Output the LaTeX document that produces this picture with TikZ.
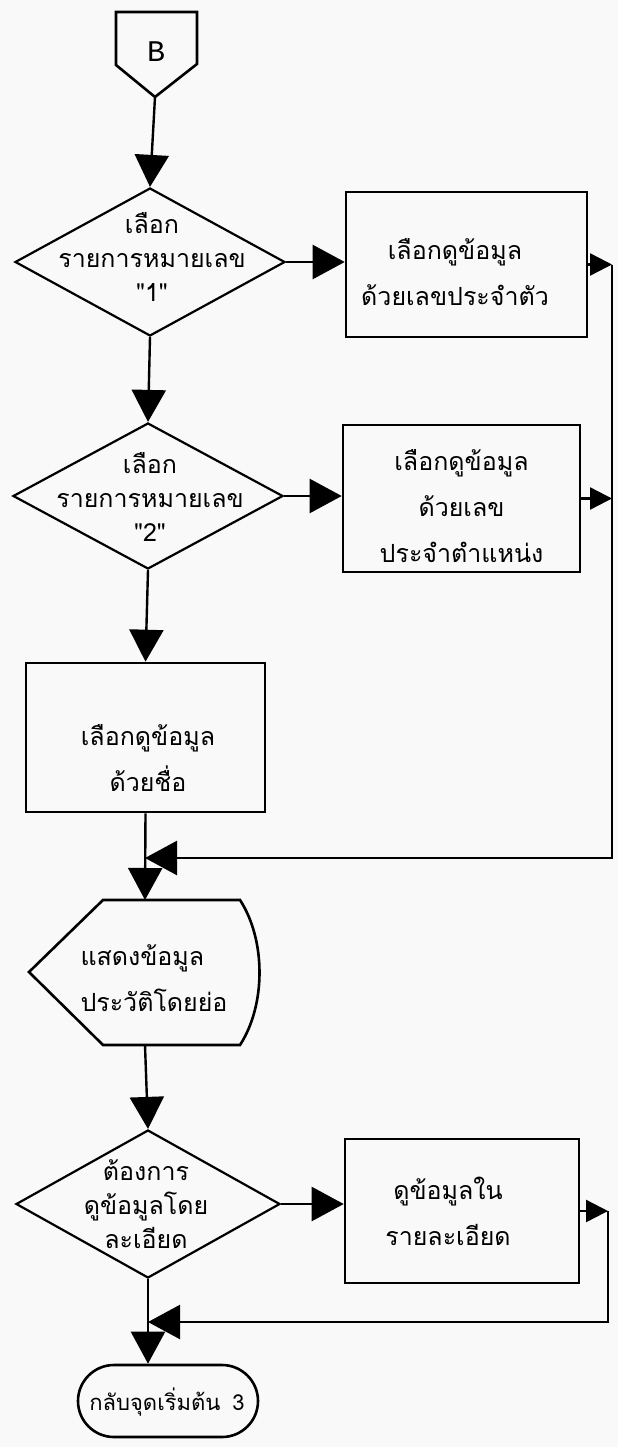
\documentclass[tikz,border=0pt]{standalone}
\usepackage{fontspec}
\newfontfamily\thai[Script=Thai]{Loma}
\newfontfamily\monofam{Liberation Mono}
\usetikzlibrary{arrows.meta,shapes.geometric,shapes.misc}
\begin{document}
\begin{tikzpicture}[x=1pt,y=-1pt,
  line width=2.4pt,
  big/.style={-{Triangle[length=32pt,width=34pt]}},
  small/.style={-{Triangle[length=22pt,width=22pt]}},
  dia/.style={diamond,draw,inner sep=0pt,line width=2.2pt},
  procbox/.style={rectangle,draw,inner sep=0pt,line width=2.6pt},
  ttext/.style={font={\thai\fontsize{25}{46}\selectfont},align=center,inner sep=0pt},
  dtext/.style={font={\thai\fontsize{25}{34}\selectfont},align=center,inner sep=0pt},
  term/.style={rounded rectangle,draw,inner sep=0pt,line width=2.6pt}]
\useasboundingbox (0,0) rectangle (618,1447);
\fill[gray!5] (0,0) rectangle (618,1447);

% off-page connector B
\draw[line width=2.6pt] (116,12) -- (197,12) -- (197,64) -- (155,97) -- (116,65) -- cycle;
\node[font={\monofam\fontsize{30}{30}\selectfont},inner sep=0pt] (B) at (156,52) {B};
\coordinate (Bpt) at (155,97);

% decision 1
\node[dia,minimum width=270pt,minimum height=148pt] (d1) at (150,262) {};
\node[dtext] (d1t) at (152,257) {เลือก\\รายการหมายเลข\\"1"};

% process 1
\node[procbox,minimum width=241pt,minimum height=145pt] (p1) at (466.5,264.5) {};
\node[ttext] (p1t) at (455,272) {เลือกดูข้อมูล\\ด้วยเลขประจำตัว};

% decision 2
\node[dia,minimum width=270pt,minimum height=146pt] (d2) at (148,496) {};
\node[dtext] (d2t) at (150,497) {เลือก\\รายการหมายเลข\\"2"};

% process 2
\node[procbox,minimum width=237pt,minimum height=147pt] (p2) at (461.5,498.5) {};
\node[ttext] (p2t) at (461.5,506) {เลือกดูข้อมูล\\ด้วยเลข\\ประจำตำแหน่ง};

% process 3
\node[procbox,minimum width=239pt,minimum height=149pt] (p3) at (145.5,737.5) {};
\node[ttext] (p3t) at (148,758) {เลือกดูข้อมูล\\ด้วยชื่อ};

% display
\draw[line width=2.6pt] (103,900) -- (240,900) .. controls (266,940) and (266,1005) .. (240,1045) -- (103,1045) -- (29,972) -- cycle;
\node[ttext,align=left] (disp) at (154,978) {แสดงข้อมูล\\ประวัติโดยย่อ};
\coordinate (disptop) at (145,900);
\coordinate (dispbot) at (145,1045);

% decision 3
\node[dia,minimum width=264pt,minimum height=148pt] (d3) at (148,1204) {};
\node[dtext] (d3t) at (146,1204) {ต้องการ\\ดูข้อมูลโดย\\ละเอียด};

% process 4
\node[procbox,minimum width=234pt,minimum height=144pt] (p4) at (462,1211) {};
\node[ttext] (p4t) at (448,1211) {ดูข้อมูลใน\\รายละเอียด};

% terminal
\node[term,minimum width=180pt,minimum height=72pt] (t) at (168,1401) {};
\node[font={\thai\fontsize{22}{26}\selectfont},inner sep=0pt] (tt) at (167,1402) {กลับจุดเริ่มต้น\hspace{12pt}3};

% right return lines
\coordinate (rb) at (612,858);
\coordinate (m1) at (145,858);
\coordinate (rb2) at (608,1322);
\coordinate (m2) at (148,1322);

% connectors
\draw[big] (Bpt) -- (d1.north);
\draw[big] (d1.south) -- (d2.north);
\draw[big] (d1.east) -- (d1.east -| p1.west);
\draw[big] (d2.east) -- (d2.east -| p2.west);
\draw[big] (d2.south) -- (p3.north);
\draw[big] (p3.south) -- (disptop);
\draw[small] (p1.east) -- (p1.east -| rb);
\draw[small] (p2.east) -- (p2.east -| rb);
\draw[big] (p1.east -| rb) -- (rb) -- (m1);
\draw[big] (dispbot) -- (d3.north);
\draw[big] (d3.east) -- (d3.east -| p4.west);
\draw[small] (p4.east) -- (p4.east -| rb2);
\draw[big] (p4.east -| rb2) -- (rb2) -- (m2);
\draw[big] (d3.south) -- (d3.south |- t.north);
\end{tikzpicture}
\end{document}
